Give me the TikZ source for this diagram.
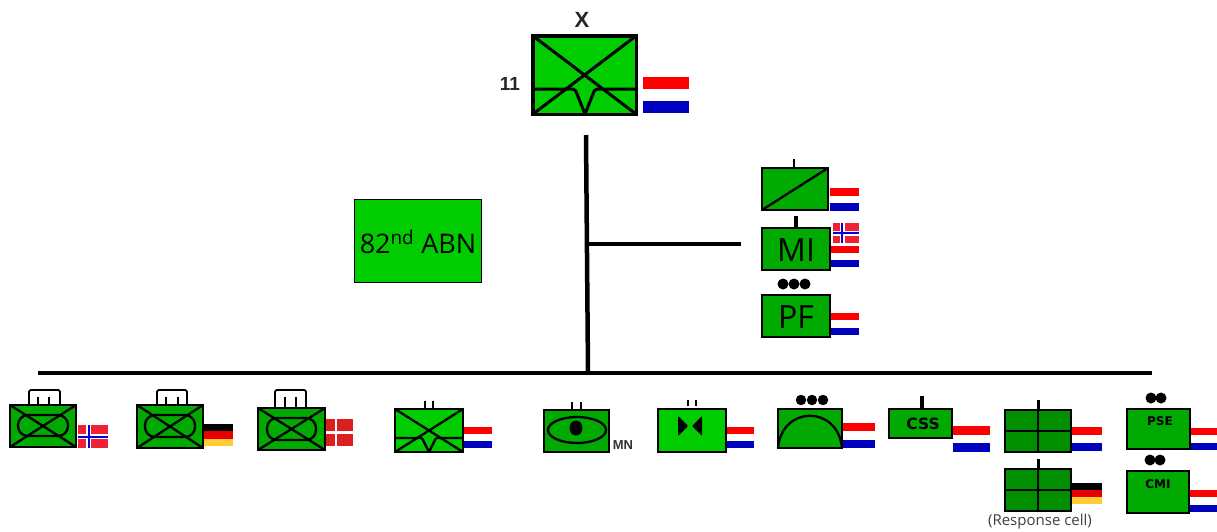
\documentclass[tikz,border=0pt]{standalone}
\usepackage{xcolor}
\usepackage{fontspec}
\usepackage{tikz}
\usetikzlibrary{calc}
\setmainfont{Open Sans}
\newfontfamily\liberationfont{Liberation Sans}
\newfontfamily\dejavufont{DejaVu Sans}
\definecolor{brightgreen}{HTML}{00CC00}
\definecolor{armygreen}{HTML}{00AA00}
\definecolor{cellgreen}{HTML}{008F00}
\definecolor{flagred}{HTML}{FF0000}
\definecolor{flagblue}{HTML}{0000BF}
\definecolor{norred}{HTML}{EE2233}
\definecolor{norblue}{HTML}{0000E0}
\definecolor{gergold}{HTML}{FFCC33}
\definecolor{gerred}{HTML}{E80000}
\definecolor{danred}{HTML}{D9201F}
\def\pb{path picture bounding box}

\begin{document}
\begin{tikzpicture}[
  x=1pt,
  y=-1pt,
  unit/.style={
    rectangle,
    draw,
    line width=2.3pt,
    inner sep=0pt,
    outer sep=0pt,
    fill=armygreen,
  },
  flag/.style={
    rectangle,
    inner sep=0pt,
    outer sep=0pt,
  },
  nlflag/.style={
    flag,
    path picture={
      \fill[flagred] (\pb.north west) rectangle ($(\pb.north east)!1/3!(\pb.south east)$);
      \fill[flagblue] ($(\pb.north west)!2/3!(\pb.south west)$) rectangle (\pb.south east);
    },
  },
  deflag/.style={
    flag,
    path picture={
      \fill[black] (\pb.north west) rectangle ($(\pb.north east)!1/3!(\pb.south east)$);
      \fill[gerred] ($(\pb.north west)!1/3!(\pb.south west)$) rectangle ($(\pb.north east)!2/3!(\pb.south east)$);
      \fill[gergold] ($(\pb.north west)!2/3!(\pb.south west)$) rectangle (\pb.south east);
    },
  },
  noflag/.style={
    flag,
    fill=norred,
    path picture={
      \draw[white, line width=5pt] ($(\pb.north west)!.36!(\pb.north east)$) -- ($(\pb.south west)!.36!(\pb.south east)$);
      \draw[white, line width=5pt] (\pb.west) -- (\pb.east);
      \draw[norblue, line width=2pt] ($(\pb.north west)!.36!(\pb.north east)$) -- ($(\pb.south west)!.36!(\pb.south east)$);
      \draw[norblue, line width=2pt] (\pb.west) -- (\pb.east);
    },
  },
  dkflag/.style={
    flag,
    fill=danred,
    path picture={
      \draw[white, line width=2.5pt] ($(\pb.north west)!.37!(\pb.north east)$) -- ($(\pb.south west)!.37!(\pb.south east)$);
      \draw[white, line width=2.5pt] (\pb.west) -- (\pb.east);
    },
  },
  sym/.style={line width=2.3pt},
  handle/.style={line width=1.8pt, rounded corners=2pt},
  tick/.style={line width=2.2pt},
  link/.style={line width=4.5pt},
  dot/.style={circle, fill=black, inner sep=0pt, minimum size=11pt},
  lead/.style={font=\liberationfont\bfseries\fontsize{19}{19}\selectfont, text=black!85},
  large/.style={font=\fontsize{32}{32}\selectfont},
  small/.style={font=\dejavufont\bfseries\fontsize{12}{12}\selectfont},
]
\useasboundingbox (0,0) rectangle (1217,531);

% ===== BRIGADE HQ =====
\node[unit, fill=brightgreen, line width=3.5pt, minimum width=103.5, minimum height=78.5] (hq) at (584.5,75) {};
\node[nlflag, minimum width=46, minimum height=36] (hqflag) at (666,95) {};
\node[font=\liberationfont\bfseries\fontsize{22}{22}\selectfont, text=black!85] (hqsize) at (582,20) {X};
\node[lead] (hqname) at (510,84) {11};
\draw[line width=3pt] (hq.north west) -- (hq.south east) (hq.south west) -- (hq.north east);
\draw[line width=3pt, rounded corners=2pt] (533,89) -- (575,89) -- (585,114) -- (595,89) -- (636,89);

% ===== ATTACHED BATTLEGROUP =====
\node[unit, fill=brightgreen, line width=1.8pt, minimum width=127, minimum height=83] (abn) at (418,241) {};
\node[font=\fontsize{27}{27}\selectfont] (abnname) at (418,242) {82\textsuperscript{nd} ABN};

% ===== MAIN LINES =====
\coordinate (stem) at (586,135);
\coordinate (busjoin) at (588,373);
\coordinate (busw) at (38,373);
\coordinate (buse) at (1152,373);
\coordinate (branchj) at (587,244);
\coordinate (branche) at (741,244);
\draw[link] (stem) -- (busjoin);
\draw[link] (busw) -- (buse);
\draw[link, line width=4pt] (branchj) -- (branche);

% ===== STAFF COLUMN =====
\node[unit, minimum width=66, minimum height=42] (sig) at (795,189) {};
\node[nlflag, minimum width=29, minimum height=23] (sigflag) at (844.5,199.5) {};
\draw[sym] (sig.south west) -- (sig.north east);
\draw[tick] (794,159) -- (794,167);

\node[unit, minimum width=68, minimum height=42] (mi) at (796,249) {};
\node[large] (miname) at (796,250) {MI};
\node[nlflag, minimum width=28, minimum height=21] (miflag) at (845,256.5) {};
\node[noflag, minimum width=26, minimum height=20] (minorflag) at (846,233) {};
\draw[tick, line width=3.5pt] (796,216) -- (796,227);

\node[unit, minimum width=68, minimum height=42] (pf) at (796,316) {};
\node[large] (pfname) at (796,317) {PF};
\node[nlflag, minimum width=28, minimum height=22] (pfflag) at (845,324) {};
\node[dot] (pfa) at (783,284) {};
\node[dot] (pfb) at (794,284) {};
\node[dot] (pfc) at (805,284) {};

% ===== ARMOURED BATTALIONS =====
\node[unit, minimum width=66, minimum height=42] (nor) at (43,426) {};
\node[noflag, minimum width=30, minimum height=23] (norflag) at (93,436.5) {};
\draw[sym] (nor.north west) -- (nor.south east) (nor.south west) -- (nor.north east);
\draw[sym, rounded corners=10pt] (18,415) rectangle (68,436);
\draw[handle] (29,404) -- (29,390) -- (60,390) -- (60,404);
\draw[tick] (38,397) -- (38,404);
\draw[tick] (49,397) -- (49,404);

\node[unit, minimum width=66, minimum height=43] (ger) at (170,426.5) {};
\node[deflag, minimum width=29, minimum height=22] (gerflag) at (218.5,435) {};
\draw[sym] (ger.north west) -- (ger.south east) (ger.south west) -- (ger.north east);
\draw[sym, rounded corners=10pt] (145,415) rectangle (195,437);
\draw[handle] (157,404) -- (157,390) -- (187,390) -- (187,404);
\draw[tick] (166,397) -- (166,404);
\draw[tick] (178,397) -- (178,404);

\node[unit, minimum width=67, minimum height=42] (dan) at (291.5,429) {};
\node[dkflag, minimum width=27, minimum height=27] (danflag) at (339.5,432.5) {};
\draw[sym] (dan.north west) -- (dan.south east) (dan.south west) -- (dan.north east);
\draw[sym, rounded corners=10pt] (267,418) rectangle (316,440);
\draw[handle] (275,407) -- (275,390) -- (306,390) -- (306,407);
\draw[tick] (285,397) -- (285,407);
\draw[tick] (296,397) -- (296,407);

% ===== RECCE AND SUPPORT UNITS =====
\node[unit, fill=brightgreen, minimum width=68, minimum height=43] (rec) at (429,430.5) {};
\node[nlflag, minimum width=28, minimum height=21] (recflag) at (478,437.5) {};
\draw[sym] (rec.north west) -- (rec.south east) (rec.south west) -- (rec.north east);
\draw[sym, rounded corners=1pt] (395,438) -- (422,438) -- (429,452) -- (436,438) -- (463,438);
\draw[tick] (425,401) -- (425,408);
\draw[tick] (433,401) -- (433,408);

\node[unit, minimum width=65, minimum height=42] (sur) at (576.5,431) {};
\node[font=\liberationfont\bfseries\fontsize{13}{13}\selectfont, text=black!80] (surname) at (623,445) {MN};
\draw[sym] (577,430) ellipse [x radius=29, y radius=13];
\fill (576,428) ellipse [x radius=6.5, y radius=7.5];
\draw[tick] (572,402) -- (572,409);
\draw[tick] (581,402) -- (581,409);

\node[unit, fill=brightgreen, minimum width=68, minimum height=43] (eng) at (692,430.5) {};
\node[nlflag, minimum width=27, minimum height=21] (engflag) at (740.5,437.5) {};
\fill[rounded corners=1pt] (678,416) -- (688,426) -- (678,436) -- cycle;
\fill[rounded corners=1pt] (702,416) -- (692,426) -- (702,436) -- cycle;
\draw[tick] (688,400) -- (688,406);
\draw[tick] (696,400) -- (696,406);

\node[unit, minimum width=64, minimum height=39] (art) at (810,428.5) {};
\node[nlflag, minimum width=32, minimum height=25] (artflag) at (859,435.5) {};
\draw[sym] (778,448) .. controls (782,405) and (838,405) .. (842,448);
\node[dot, minimum size=10.5pt] (arta) at (801,400) {};
\node[dot, minimum size=10.5pt] (artb) at (812,400) {};
\node[dot, minimum size=10.5pt] (artc) at (823,400) {};

\node[unit, minimum width=63, minimum height=29] (css) at (920.5,423.5) {};
\node[font=\dejavufont\bfseries\fontsize{15.5}{15.5}\selectfont] (cssname) at (923,424) {CSS};
\node[nlflag, minimum width=37, minimum height=26] (cssflag) at (971.5,439) {};
\draw[tick, line width=3.5pt] (922,396) -- (922,408);

% ===== CELLS =====
\node[unit, fill=cellgreen, minimum width=66, minimum height=42] (cella) at (1038,431) {};
\node[nlflag, minimum width=30, minimum height=24] (cellaflag) at (1087,439) {};
\draw[sym] (cella.north) -- (cella.south) (cella.west) -- (cella.east);
\draw[tick, line width=3pt] (1038,400) -- (1038,409);

\node[unit, fill=cellgreen, minimum width=66, minimum height=42] (cellb) at (1038,490) {};
\node[deflag, minimum width=30, minimum height=21] (cellbflag) at (1087,493.5) {};
\draw[sym] (cellb.north) -- (cellb.south) (cellb.west) -- (cellb.east);
\draw[tick, line width=3pt] (1038,459) -- (1038,468);
\node[font=\fontsize{15}{15}\selectfont, text=black!75] (cellbname) at (1040,522) {(Response cell)};

\node[unit, minimum width=63, minimum height=40] (pse) at (1158.5,429) {};
\node[small] (psename) at (1160,421) {PSE};
\node[nlflag, minimum width=26, minimum height=22] (pseflag) at (1204,439) {};
\node[dot] (psea) at (1151,398) {};
\node[dot] (pseb) at (1161,398) {};

\node[unit, minimum width=62, minimum height=42] (cmi) at (1158,492) {};
\node[small] (cminame) at (1158,484) {CMI};
\node[nlflag, minimum width=27, minimum height=22] (cmiflag) at (1203.5,501) {};
\node[dot] (cmia) at (1150,460) {};
\node[dot] (cmib) at (1160,460) {};

\end{tikzpicture}
\end{document}
